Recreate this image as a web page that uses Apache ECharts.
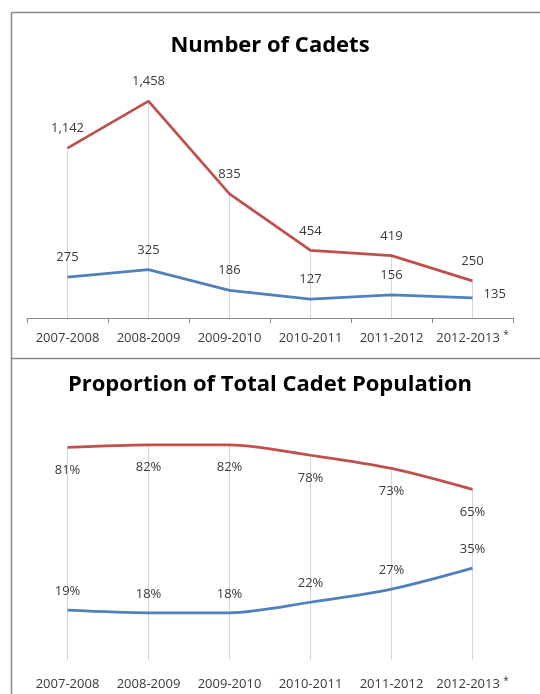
<!DOCTYPE html>
<html>
<head>
<meta charset="utf-8">
<script src="https://cdn.jsdelivr.net/npm/echarts@6/dist/echarts.min.js"></script>
<style>html,body{margin:0;padding:0;background:#fff}#c{width:540px;height:694px}</style>
</head>
<body>
<div id="c"></div>
<script>
const categories = ["2007-2008", "2008-2009", "2009-2010", "2010-2011", "2011-2012", "2012-2013 *"];
const countRed = [1142, 1458, 835, 454, 419, 250];
const countBlue = [275, 325, 186, 127, 156, 135];
const shareRed = [81, 82, 82, 78, 73, 65];
const shareBlue = [19, 18, 18, 22, 27, 35];

const RED = '#C0504D', BLUE = '#4F81BD', DROP = '#C9D8EC', TXT = '#3a3a3a';
const FONT = 'Open Sans';

function dropLines(vals) {
  return vals.map((v, i) => [{ coord: [i, v] }, { coord: [i, 0] }]);
}
function catFormatter(v) {
  if (v.endsWith(' *')) return '{a|' + v.slice(0, -2) + ' }{s|*}';
  return '{a|' + v + '}';
}
const axisLabelBase = {
  color: TXT, fontFamily: FONT, fontSize: 13, interval: 0,
  formatter: catFormatter,
  rich: {
    a: { fontSize: 13, color: TXT, fontFamily: FONT, lineHeight: 16 },
    s: { fontSize: 10, color: TXT, fontFamily: FONT, lineHeight: 8, verticalAlign: 'top' }
  }
};
const lineCommon = { showSymbol: true, symbol: 'circle', symbolSize: 0.1, z: 3 };
const lbl = (pos, dist, fmt) => ({ show: true, position: pos, distance: dist, color: TXT,
  fontFamily: FONT, fontSize: 13, formatter: fmt });
const fmtNum = p => Number(p.value).toLocaleString('en-US');
const fmtPct = p => p.value + '%';

const chart = echarts.init(document.getElementById('c'), null, { renderer: 'canvas' });
chart.setOption({
  animation: false,
  backgroundColor: '#fff',
  title: [
    { text: 'Number of Cadets', left: 'center', top: 30,
      textStyle: { fontFamily: FONT, fontWeight: 'bold', fontSize: 22, color: '#000' } },
    { text: 'Proportion of Total Cadet Population', left: 'center', top: 369,
      textStyle: { fontFamily: FONT, fontWeight: 'bold', fontSize: 22, color: '#000' } }
  ],
  graphic: [
    { type: 'line', shape: { x1: 11.5, y1: 12.5, x2: 540, y2: 12.5 }, style: { stroke: '#8a8a8a', lineWidth: 1.5 } },
    { type: 'line', shape: { x1: 11.5, y1: 12.5, x2: 11.5, y2: 694 }, style: { stroke: '#8a8a8a', lineWidth: 1.5 } },
    { type: 'line', shape: { x1: 11.5, y1: 358.5, x2: 540, y2: 358.5 }, style: { stroke: '#8a8a8a', lineWidth: 1.5 } }
  ],
  grid: [
    { left: 27, right: 27, top: 80, height: 238 },
    { left: 27, right: 27, top: 397.5, height: 262.5 }
  ],
  xAxis: [
    { type: 'category', gridIndex: 0, data: categories, boundaryGap: true,
      axisLine: { lineStyle: { color: '#8c8c8c', width: 1 } },
      axisTick: { show: true, length: 5, lineStyle: { color: '#8c8c8c' } },
      axisLabel: Object.assign({ margin: 12 }, axisLabelBase) },
    { type: 'category', gridIndex: 1, data: categories, boundaryGap: true,
      axisLine: { show: false }, axisTick: { show: false },
      axisLabel: Object.assign({ margin: 16 }, axisLabelBase) }
  ],
  yAxis: [
    { type: 'value', gridIndex: 0, min: 0, max: 1600, show: false, splitLine: { show: false } },
    { type: 'value', gridIndex: 1, min: 0, max: 100, show: false, splitLine: { show: false } }
  ],
  series: [
    Object.assign({ type: 'line', xAxisIndex: 0, yAxisIndex: 0, data: countRed,
      lineStyle: { color: RED, width: 2.75 }, itemStyle: { color: RED },
      label: lbl('top', 13, fmtNum),
      markLine: { silent: true, symbol: 'none', label: { show: false },
        lineStyle: { color: DROP, width: 1, type: 'solid' }, data: dropLines(countRed), z: 1 } }, lineCommon),
    Object.assign({ type: 'line', xAxisIndex: 0, yAxisIndex: 0,
      data: countBlue.map((v, i) => i === countBlue.length - 1 ?
        { value: v, label: { position: 'right', distance: 11, offset: [0, -4] } } : v),
      lineStyle: { color: BLUE, width: 2.75 }, itemStyle: { color: BLUE },
      label: lbl('top', 13, fmtNum) }, lineCommon),
    Object.assign({ type: 'line', xAxisIndex: 1, yAxisIndex: 1, data: shareRed, smooth: 0.3,
      lineStyle: { color: RED, width: 2.75 }, itemStyle: { color: RED },
      label: lbl('bottom', 16, fmtPct),
      markLine: { silent: true, symbol: 'none', label: { show: false },
        lineStyle: { color: DROP, width: 1, type: 'solid' }, data: dropLines(shareRed), z: 1 } }, lineCommon),
    Object.assign({ type: 'line', xAxisIndex: 1, yAxisIndex: 1, data: shareBlue, smooth: 0.3,
      lineStyle: { color: BLUE, width: 2.75 }, itemStyle: { color: BLUE },
      label: lbl('top', 12, fmtPct) }, lineCommon)
  ]
});
</script>
</body>
</html>
